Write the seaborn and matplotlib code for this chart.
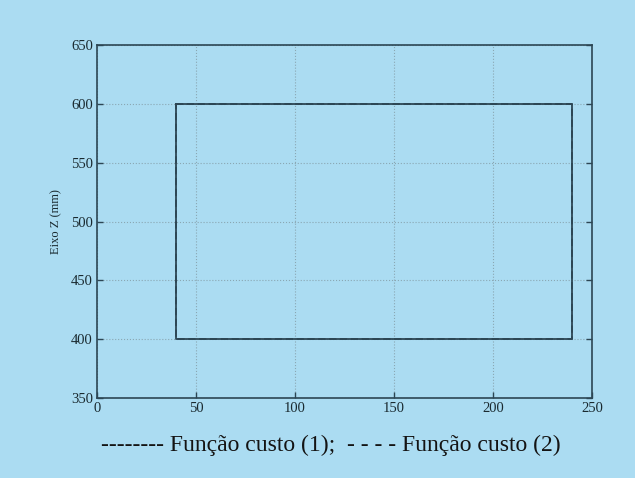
import matplotlib
matplotlib.use("Agg")
import matplotlib.pyplot as plt
import seaborn as sns
import pandas as pd

# Trajectory in the X-Z plane for both cost functions (mm)
eixo_x_custo1 = [40, 240, 240, 40, 40]
eixo_z_custo1 = [600, 600, 400, 400, 600]
eixo_x_custo2 = [40, 240, 240, 40, 40]
eixo_z_custo2 = [600, 600, 400, 400, 600]

x_ticks = [0, 50, 100, 150, 200, 250]
z_ticks = [350, 400, 450, 500, 550, 600, 650]

bg = "#abdcf2"
ink = "#2c4654"

sns.set_theme(style="white")
plt.rcParams["font.family"] = ["Liberation Serif", "DejaVu Serif"]

fig = plt.figure(figsize=(6.35, 4.78), dpi=100, facecolor=bg)
ax = fig.add_axes([0.153, 0.167, 0.779, 0.739])
ax.set_facecolor(bg)

df1 = pd.DataFrame({"x": eixo_x_custo1, "z": eixo_z_custo1})
df2 = pd.DataFrame({"x": eixo_x_custo2, "z": eixo_z_custo2})
sns.lineplot(data=df1, x="x", y="z", sort=False, estimator=None, ax=ax,
             color=ink, linewidth=1.3, linestyle="-")
sns.lineplot(data=df2, x="x", y="z", sort=False, estimator=None, ax=ax,
             color=ink, linewidth=1.3, linestyle=(0, (4, 2)))

ax.set_xlim(0, 250)
ax.set_ylim(350, 650)
ax.set_xticks(x_ticks)
ax.set_yticks(z_ticks)
ax.grid(True, color="#8aa7b3", linestyle=":", linewidth=0.8)
ax.tick_params(direction="in", length=4, width=1, colors=ink, labelcolor="#1a2a30",
               labelsize=10.5, top=False, right=True, bottom=True, left=True, pad=3)
for s in ax.spines.values():
    s.set_color(ink)
    s.set_linewidth(1.2)
ax.set_xlabel("")
ax.set_ylabel("Eixo Z (mm)", fontsize=9, color="#1a2a30", labelpad=6)

fig.text(0.521, 0.069, "-------- Função custo (1);  - - - - Função custo (2)",
         ha="center", va="center", fontsize=17, color="#141414")

fig.savefig("out.png", dpi=100, facecolor=bg)
